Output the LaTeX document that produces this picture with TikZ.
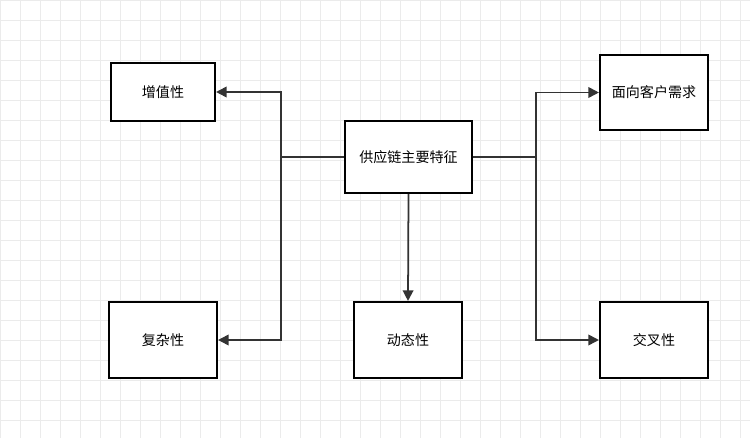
\documentclass[tikz,border=0pt]{standalone}
\usepackage{fontspec}
\newfontfamily\cjk{Noto Sans CJK SC}
\usetikzlibrary{arrows.meta}
\tikzset{
  box/.style={draw=black,line width=1.2pt,fill=white,font=\cjk\fontsize{8}{10}\selectfont,inner sep=0pt},
  link/.style={draw=black!80,line width=1pt},
  arr/.style={link,-{Triangle[length=6pt,width=6pt]}}
}
\begin{document}
\begin{tikzpicture}[x=0.02cm,y=-0.02cm]
\useasboundingbox (0,0) rectangle (750,438);
% background grid
\foreach \gx in {0,20,...,740}
\draw[black!8,line width=0.4pt] (\gx,0) -- (\gx,438);
\foreach \gy in {0,20,...,420}
\draw[black!8,line width=0.4pt] (0,\gy) -- (750,\gy);
%
% boxes
\node[box,minimum width=2.54cm,minimum height=1.44cm] (main) at (408.5,157) {供应链主要特征};
\node[box,minimum width=2.08cm,minimum height=1.16cm] (zz) at (163,92) {增值性};
\node[box,minimum width=2.16cm,minimum height=1.5cm] (kh) at (654,92.5) {面向客户需求};
\node[box,minimum width=2.16cm,minimum height=1.52cm] (fz) at (163,340) {复杂性};
\node[box,minimum width=2.16cm,minimum height=1.52cm] (dt) at (408,340) {动态性};
\node[box,minimum width=2.16cm,minimum height=1.52cm] (jc) at (654,340) {交叉性};
%
% connectors
\coordinate (jl) at (281,157);
\coordinate (jr) at (536,157);
\draw[link] (main.west) -- (jl);
\draw[link] (main.east) -- (jr);
\draw[arr] (jl) |- (zz.east);
\draw[arr] (jl) |- (fz.east);
\draw[arr] (jr) |- (kh.west);
\draw[arr] (jr) |- (jc.west);
\draw[arr] (main.south) -- (dt.north);
\end{tikzpicture}
\end{document}
